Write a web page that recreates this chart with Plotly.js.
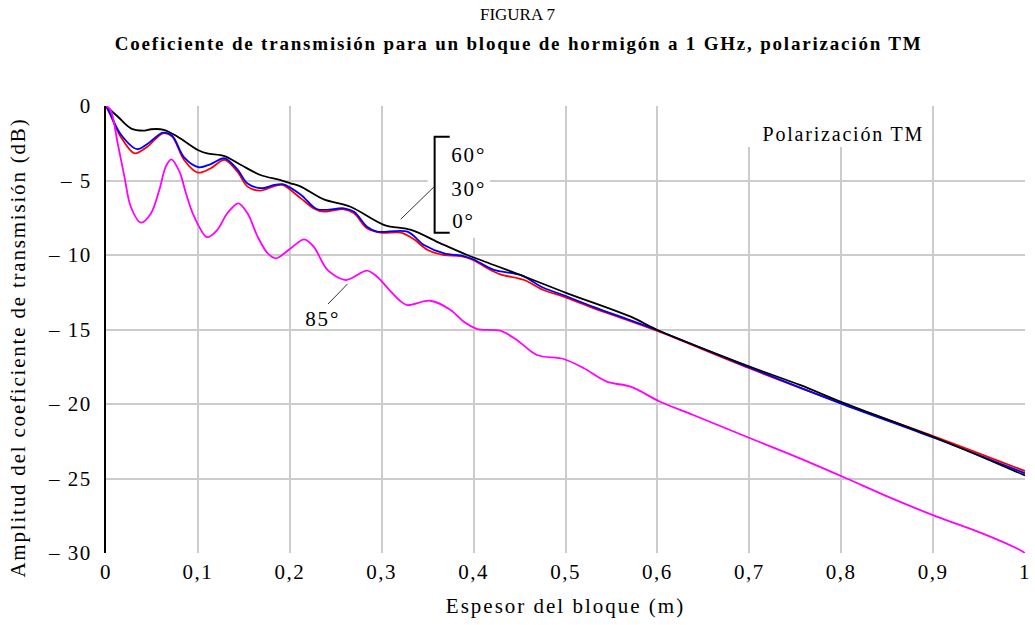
<!DOCTYPE html>
<html>
<head>
<meta charset="utf-8">
<script src="https://cdn.plot.ly/plotly-3.0.1.min.js"></script>
<style>
html,body{margin:0;padding:0;background:#fff;}
#chart{width:1035px;height:625px;}
#chart .xtitle, #chart .ytitle {letter-spacing: 2px;}
#chart .xtick text, #chart .ytick text {letter-spacing: 1.5px;}
#chart .annotation-text {letter-spacing: 1.8px;}
</style>
</head>
<body>
<div id="chart"></div>
<script>
// ---- data ----
const x0deg = [0, 0.004, 0.016, 0.031, 0.045, 0.062, 0.072, 0.085, 0.1, 0.114, 0.129, 0.143, 0.154, 0.168, 0.183, 0.192, 0.212, 0.226, 0.237, 0.259, 0.27, 0.284, 0.299, 0.321, 0.335, 0.35, 0.368, 0.386, 0.4, 0.415, 0.429, 0.455, 0.476, 0.498, 0.531, 0.567, 0.6, 0.7, 0.8, 0.9, 1.0];
const y0deg = [0, -0.5, -2.06, -3.18, -2.73, -1.83, -2.06, -3.62, -4.47, -4.18, -3.62, -4.41, -5.41, -5.68, -5.37, -5.3, -6.2, -6.87, -7.09, -6.93, -7.2, -8.21, -8.5, -8.5, -8.95, -9.66, -10.0, -10.07, -10.34, -10.89, -11.3, -11.68, -12.35, -12.8, -13.58, -14.36, -15.1, -17.6, -19.95, -22.15, -24.5];

const x30deg = [0, 0.004, 0.016, 0.034, 0.045, 0.062, 0.072, 0.085, 0.101, 0.114, 0.129, 0.143, 0.154, 0.17, 0.183, 0.192, 0.212, 0.23, 0.259, 0.27, 0.284, 0.295, 0.328, 0.346, 0.368, 0.389, 0.4, 0.422, 0.451, 0.476, 0.498, 0.531, 0.567, 0.6, 0.7, 0.8, 0.9, 1.0];
const y30deg = [0, -0.45, -1.9, -2.9, -2.55, -1.79, -2.0, -3.45, -4.11, -3.9, -3.51, -4.25, -5.2, -5.52, -5.3, -5.25, -5.95, -6.93, -6.87, -7.1, -8.1, -8.43, -8.43, -9.33, -9.89, -10.07, -10.3, -11.0, -11.34, -12.2, -12.7, -13.5, -14.3, -15.05, -17.55, -19.98, -22.25, -24.65];

const x60deg = [0, 0.013, 0.027, 0.042, 0.049, 0.063, 0.078, 0.1, 0.11, 0.129, 0.147, 0.168, 0.19, 0.201, 0.212, 0.237, 0.266, 0.303, 0.332, 0.364, 0.393, 0.422, 0.451, 0.502, 0.571, 0.6, 0.701, 0.755, 0.804, 0.904, 1.0];
const y60deg = [0, -0.72, -1.5, -1.65, -1.56, -1.6, -2.06, -2.95, -3.18, -3.36, -3.96, -4.63, -4.97, -5.19, -5.41, -6.27, -6.76, -7.99, -8.32, -9.22, -10.0, -10.67, -11.34, -12.57, -14.14, -15.03, -17.5, -18.72, -19.96, -22.3, -24.8];

const x85deg = [0, 0.005, 0.0127, 0.02, 0.027, 0.038, 0.049, 0.058, 0.065, 0.071, 0.08, 0.087, 0.096, 0.11, 0.121, 0.132, 0.144, 0.154, 0.165, 0.176, 0.185, 0.201, 0.2156, 0.226, 0.241, 0.261, 0.284, 0.295, 0.31, 0.321, 0.328, 0.353, 0.375, 0.389, 0.404, 0.429, 0.447, 0.469, 0.498, 0.52, 0.545, 0.571, 0.603, 0.639, 0.705, 0.755, 0.806, 0.85, 0.904, 0.95, 0.993, 1.0];
const y85deg = [0, -0.27, -2.5, -4.74, -6.76, -7.83, -7.2, -5.64, -4.07, -3.58, -4.41, -5.86, -7.43, -8.8, -8.32, -7.2, -6.53, -7.2, -8.77, -9.89, -10.22, -9.55, -8.95, -9.44, -11.0, -11.68, -11.05, -11.46, -12.46, -13.13, -13.36, -13.07, -13.69, -14.47, -14.97, -15.08, -15.7, -16.71, -16.98, -17.6, -18.5, -18.84, -19.85, -20.74, -22.4, -23.65, -25.0, -26.2, -27.56, -28.6, -29.75, -30.0];

const xTickVals = [0, 0.1, 0.2, 0.3, 0.4, 0.5, 0.6, 0.7, 0.8, 0.9, 1];
const xTickText = ["0", "0,1", "0,2", "0,3", "0,4", "0,5", "0,6", "0,7", "0,8", "0,9", "1"];
const yTickVals = [-30, -25, -20, -15, -10, -5, 0];
const yTickText = ["\u2013 30", "\u2013 25", "\u2013 20", "\u2013 15", "\u2013 10", "\u2013 5", "0"];

const FONT = "Liberation Serif";

const lineStyle = (c) => ({color: c, width: 1.8, shape: "spline", smoothing: 0.9});
const traces = [
  {x: x0deg, y: y0deg, name: "0°", mode: "lines", line: lineStyle("#ff0000")},
  {x: x30deg, y: y30deg, name: "30°", mode: "lines", line: lineStyle("#0000ff")},
  {x: x60deg, y: y60deg, name: "60°", mode: "lines", line: lineStyle("#000000")},
  {x: x85deg, y: y85deg, name: "85°", mode: "lines", line: lineStyle("#ff00ff")}
];

const layout = {
  width: 1035, height: 625,
  margin: {l: 106, r: 10, t: 106, b: 72},
  paper_bgcolor: "#fff", plot_bgcolor: "#fff",
  showlegend: false,
  font: {family: FONT, size: 20, color: "#000"},
  title: {text: "FIGURA 7", font: {family: FONT, size: 17, color: "#000"}, x: 0.5, xanchor: "center", y: 0.978, yanchor: "middle"},
  xaxis: {
    range: [0, 1], tickvals: xTickVals, ticktext: xTickText,
    showgrid: true, gridcolor: "#cccccc", gridwidth: 2,
    zeroline: false, showline: false, ticks: "", ticklabelstandoff: 4,
    tickfont: {family: FONT, size: 21, color: "#000"},
    title: {text: "Espesor del bloque (m)", font: {family: FONT, size: 21, color: "#000"}, standoff: 15}
  },
  yaxis: {
    range: [-30, 0], tickvals: yTickVals, ticktext: yTickText,
    showgrid: true, gridcolor: "#cccccc", gridwidth: 2,
    zeroline: false, showline: true, linecolor: "#000", linewidth: 2,
    ticks: "", ticklabelstandoff: 8,
    tickfont: {family: FONT, size: 21, color: "#000"}
  },
  shapes: [
    {type: "rect", layer: "between", xref: "x", yref: "y", x0: 0.35, x1: 0.418, y0: 0, y1: -8.85, fillcolor: "#fff", line: {width: 0}},
    {type: "rect", layer: "between", xref: "x", yref: "y", x0: 0.69, x1: 0.892, y0: 0, y1: -2.75, fillcolor: "#fff", line: {width: 0}},
    {type: "path", xref: "x", yref: "y", path: "M 0.374,-2.06 L 0.3576,-2.06 L 0.3576,-8.5 L 0.374,-8.5", line: {color: "#000", width: 2}},
    {type: "line", xref: "x", yref: "y", x0: 0.357, y0: -5.42, x1: 0.3207, y1: -7.6, line: {color: "#333", width: 1}},
    {type: "line", xref: "x", yref: "y", x0: 0.2627, y0: -11.95, x1: 0.2416, y1: -13.29, line: {color: "#333", width: 1}}
  ],
  annotations: [
    {xref: "paper", yref: "paper", x: 0.449, y: 1.139, text: "<b>Coeficiente de transmisión para un bloque de hormigón a 1 GHz, polarización TM</b>", showarrow: false, font: {family: FONT, size: 19}, xanchor: "center", yanchor: "middle"},
    {xref: "paper", yref: "paper", x: 0, xshift: -88, y: 0.4586, text: "Amplitud del coeficiente de transmisión (dB)", textangle: -90, showarrow: false, font: {family: FONT, size: 21}, xanchor: "center", yanchor: "middle"},
    {xref: "x", yref: "y", x: 0.802, y: -1.88, text: "Polarización TM", showarrow: false, font: {family: FONT, size: 20}, xanchor: "center", yanchor: "middle"},
    {xref: "x", yref: "y", x: 0.377, y: -3.29, text: "60°", showarrow: false, font: {family: FONT, size: 21}, xanchor: "left", yanchor: "middle"},
    {xref: "x", yref: "y", x: 0.377, y: -5.57, text: "30°", showarrow: false, font: {family: FONT, size: 21}, xanchor: "left", yanchor: "middle"},
    {xref: "x", yref: "y", x: 0.377, y: -7.72, text: "0°", showarrow: false, font: {family: FONT, size: 21}, xanchor: "left", yanchor: "middle"},
    {xref: "x", yref: "y", x: 0.2355, y: -14.32, text: "85°", showarrow: false, font: {family: FONT, size: 21}, xanchor: "center", yanchor: "middle"}
  ]
};

Plotly.newPlot("chart", traces, layout, {displayModeBar: false, staticPlot: true});
</script>
</body>
</html>
